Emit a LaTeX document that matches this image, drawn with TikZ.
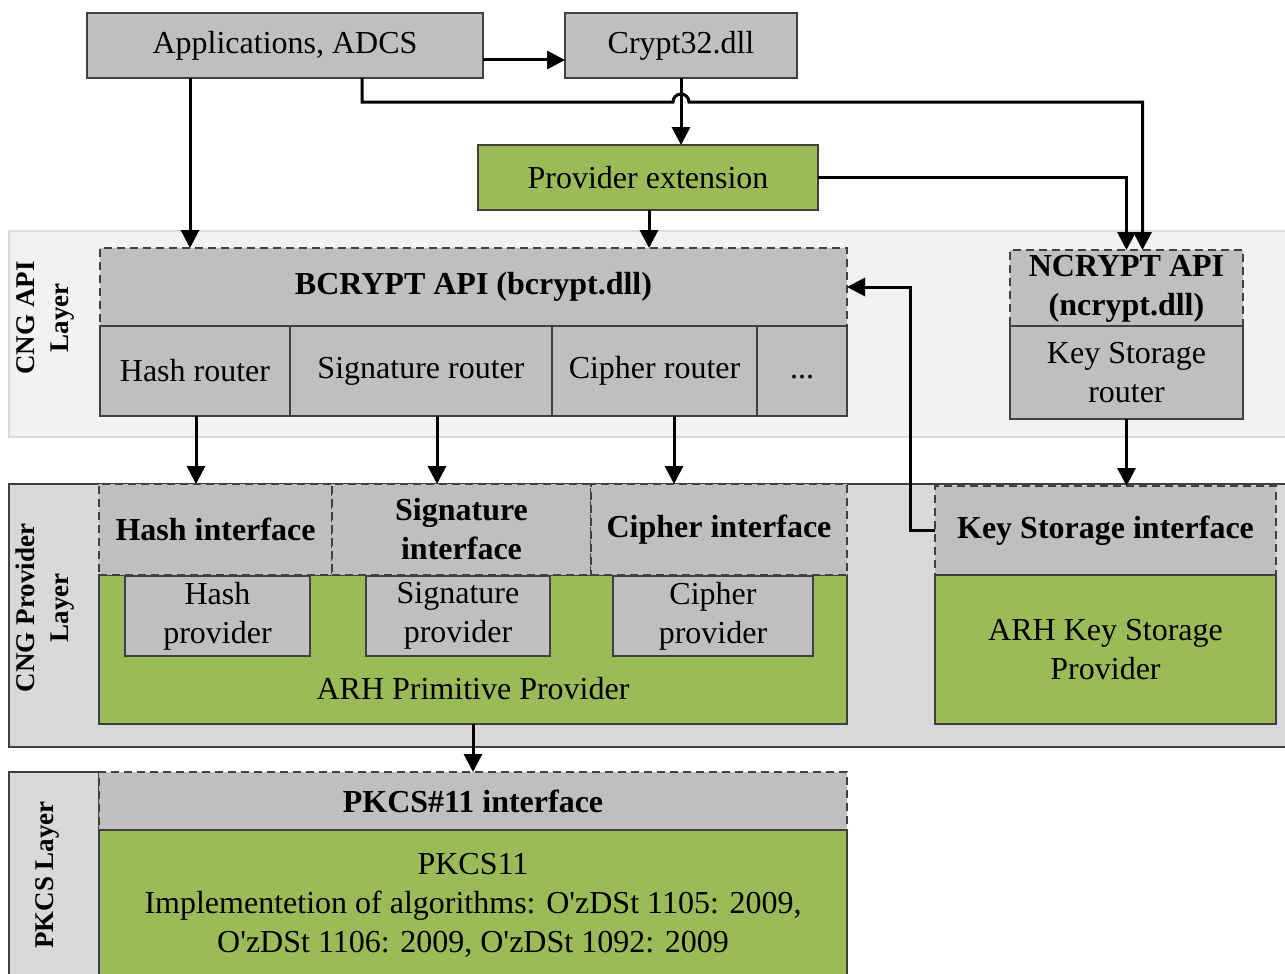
\documentclass[tikz,border=0pt]{standalone}
\usepackage{fontspec}
\setmainfont{Liberation Serif}
\usetikzlibrary{arrows.meta,calc}
\definecolor{boxgray}{HTML}{BFBFBF}
\definecolor{boxgreen}{HTML}{9BBB59}
\definecolor{apibg}{HTML}{F2F2F2}
\definecolor{provbg}{HTML}{D9D9D9}
\definecolor{edge}{HTML}{404040}

\begin{document}
\begin{tikzpicture}[x=1pt,y=-1pt,
  every node/.style={inner sep=0pt, outer sep=0pt, align=center,
    font=\fontsize{32}{39}\selectfont},
  box/.style={draw=edge, line width=1.5pt, fill=boxgray},
  dbox/.style={box, line width=1.8pt, dash pattern=on 8pt off 5pt},
  gbox/.style={draw=edge, line width=1.5pt, fill=boxgreen},
  lbl/.style={rotate=90, font=\fontsize{27}{34}\selectfont\bfseries},
  bold/.style={font=\fontsize{32}{39}\selectfont\bfseries},
  arr/.style={line width=3pt, -{Triangle[length=18pt,width=18pt]}}]

\useasboundingbox (0,0) rectangle (1285,974);
\clip (0,0) rectangle (1285,974);

% ---- layer backgrounds ----
\node[fill=apibg, draw=provbg, line width=1.5pt, minimum width=1285, minimum height=206]
  (apilayer) at (651.5,334) {};
\node[fill=provbg, draw=edge, line width=1.5pt, minimum width=1285, minimum height=263]
  (provlayer) at (651.5,615.5) {};
\node[fill=provbg, draw=edge, line width=1.5pt, minimum width=90, minimum height=210]
  (pkcslayer) at (54,877) {};

\node[lbl] (apilbl) at (45,318) {CNG API\\Layer};
\node[lbl] (provlbl) at (45,608) {CNG Provider\\Layer};
\node[lbl] (pkcslbl) at (47,875) {PKCS Layer};

% ---- top row ----
\node[box, minimum width=396, minimum height=65] (app) at (285,45.5) {Applications, ADCS};
\node[box, minimum width=232, minimum height=65] (crypt) at (681,45.5) {Crypt32.dll};
\node[gbox, minimum width=340, minimum height=65] (provext) at (648,177.5) {Provider extension};

% ---- CNG API layer ----
\node[dbox, bold, minimum width=747, minimum height=78] (bcrypt) at (473.5,287) {BCRYPT API (bcrypt.dll)};
\node[box, minimum width=190, minimum height=90] (hashr) at (195,371) {Hash router};
\node[box, minimum width=262, minimum height=90] (sigr) at (421,371) {Signature router};
\node[box, minimum width=205, minimum height=90] (cipr) at (654.5,371) {Cipher router};
\node[box, minimum width=90, minimum height=90] (morer) at (802,371) {\vphantom{Hg}...};

\node[dbox, bold, minimum width=233, minimum height=78] (ncrypt) at (1126.5,289) {NCRYPT API\\(ncrypt.dll)};
\node[box, minimum width=233, minimum height=93] (ksr) at (1126.5,372.5) {Key Storage\\router};

% ---- CNG provider layer ----
\node[gbox, minimum width=748, minimum height=149] (arhp) at (473,649.5) {};
\node (arhptext) at ($(arhp.south)+(0,-35)$) {ARH Primitive Provider};
\node[dbox, bold, minimum width=233, minimum height=91] (hashi) at (215.5,529.5) {Hash interface};
\node[dbox, bold, minimum width=259, minimum height=91] (sigi) at (461.5,529.5) {Signature\\interface};
\node[dbox, bold, minimum width=256, minimum height=91] (cipi) at (719,529.5) {Cipher interface};
\node[box, minimum width=185, minimum height=80] (hashp) at (217.5,616) {Hash\\provider};
\node[box, minimum width=184, minimum height=80] (sigp) at (458,616) {Signature\\provider};
\node[box, minimum width=200, minimum height=80] (cipp) at (713,616) {Cipher\\provider};

\node[dbox, bold, minimum width=341, minimum height=89] (ksi) at (1105.5,530.5) {Key Storage interface};
\node[gbox, minimum width=341, minimum height=149] (arhks) at (1105.5,649.5) {ARH Key Storage\\Provider};

% ---- PKCS layer ----
\node[dbox, bold, minimum width=748, minimum height=58] (pkcsi) at (473,801) {PKCS\#11 interface};
\node[gbox, minimum width=748, minimum height=150] (pkcs) at (473,905) {PKCS11\\Implementetion of algorithms: O\textquotesingle zDSt 1105: 2009,\\O\textquotesingle zDSt 1106: 2009, O\textquotesingle zDSt 1092: 2009};

% ---- connectors ----
\draw[arr] ($(app.east)+(0,14.5)$) -- ($(crypt.west)+(0,14.5)$);
\draw[arr] (app.south -| 190,0) -- (bcrypt.north -| 190,0);
\draw[arr] (app.south -| 362,0) |- (673,102) arc(180:360:8) -- (1142.5,102)
  -- ($(ncrypt.north)+(16,0)$);
\draw[arr] (crypt.south) -- (crypt.south |- provext.north);
\draw[arr] (provext.south -| 649,0) -- (bcrypt.north -| 649,0);
\draw[arr] (provext.east) -| (ncrypt.north -| 1126.5,0);

\draw[arr] (hashr.south -| 196,0) -- (hashi.north -| 196,0);
\draw[arr] (sigr.south -| 437,0) -- (sigi.north -| 437,0);
\draw[arr] (cipr.south -| 674,0) -- (cipi.north -| 674,0);
\draw[arr] (ksr.south) -- (ksi.north -| ksr.south);
\draw[arr] (ksi.west) -- ++(-25,0) |- (bcrypt.east);

\draw[arr] (arhp.south) -- (pkcsi.north);
\end{tikzpicture}
\end{document}
